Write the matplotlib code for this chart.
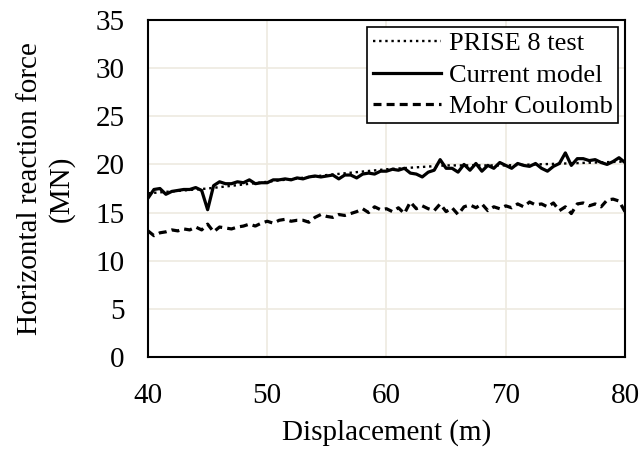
import numpy as np
import matplotlib
matplotlib.use("Agg")
import matplotlib.pyplot as plt

plt.rcParams['font.family'] = ['Liberation Serif', 'DejaVu Serif']

# Displacement (m) for the model curves, 0.5 m steps
displacement = np.arange(40.0, 80.01, 0.5)

current_model = [
    16.5, 17.4, 17.5, 16.9, 17.2, 17.3, 17.4, 17.4, 17.6, 17.3,
    15.3, 17.8, 18.2, 18.0, 18.0, 18.2, 18.1, 18.4, 18.0, 18.1,
    18.1, 18.4, 18.4, 18.5, 18.4, 18.6, 18.5, 18.7, 18.8, 18.7,
    18.8, 18.9, 18.5, 18.9, 18.9, 18.6, 19.0, 19.1, 19.0, 19.3,
    19.3, 19.5, 19.4, 19.6, 19.1, 19.0, 18.7, 19.2, 19.4, 20.5,
    19.6, 19.6, 19.2, 20.0, 19.4, 20.1, 19.3, 19.9, 19.6, 20.2,
    19.9, 19.6, 20.1, 19.9, 19.8, 20.1, 19.6, 19.3, 19.8, 20.1,
    21.2, 19.9, 20.6, 20.6, 20.4, 20.5, 20.2, 20.0, 20.3, 20.7,
    20.2,
]

mohr_coulomb = [
    13.1, 12.6, 12.9, 13.0, 13.2, 13.1, 13.3, 13.2, 13.5, 13.2,
    13.8, 13.0, 13.5, 13.4, 13.3, 13.5, 13.6, 13.8, 13.6, 13.9,
    14.1, 13.9, 14.2, 14.3, 14.1, 14.2, 14.2, 14.0, 14.5, 14.8,
    14.6, 14.5, 14.8, 14.7, 14.9, 15.1, 15.4, 15.0, 15.6, 15.3,
    15.4, 15.1, 15.5, 14.9, 16.1, 15.4, 15.7, 15.4, 15.2, 15.9,
    15.1, 15.5, 14.8, 15.6, 15.8, 15.5, 15.9, 15.2, 15.6, 15.4,
    15.7, 15.5, 15.9, 15.6, 16.1, 15.8, 15.9, 15.6, 16.0, 15.2,
    15.6, 14.9, 15.9, 16.0, 15.7, 15.9, 15.6, 16.3, 16.4, 16.2,
    15.1,
]

# Field test measurements
test_displacement = [40, 42, 45, 50, 55, 60, 65, 70, 75, 80]
test_force = [17.0, 17.2, 17.5, 18.2, 18.9, 19.5, 19.9, 19.9, 20.1, 20.3]

x_ticks = [40, 50, 60, 70, 80]
y_ticks = [0, 5, 10, 15, 20, 25, 30, 35]

fig = plt.figure(figsize=(6.41, 4.57), dpi=100)
ax = fig.add_axes([0.2309, 0.2188, 0.7441, 0.7374])

ax.plot(test_displacement, test_force, color='black', linestyle=(0, (1, 1.6)),
        linewidth=1.7, label='PRISE 8 test')
ax.plot(displacement, current_model, color='black', linestyle='-',
        linewidth=2.3, label='Current model')
ax.plot(displacement, mohr_coulomb, color='black', linestyle=(0, (2.5, 1.6)),
        linewidth=2.3, label='Mohr Coulomb')

ax.set_xlim(40, 80)
ax.set_ylim(0, 35)
ax.set_xticks(x_ticks)
ax.set_yticks(y_ticks)
ax.grid(True, color='#EEEAE0', linewidth=1.2)
ax.set_axisbelow(True)
ax.tick_params(length=0, labelsize=21)
ax.tick_params(axis='x', pad=19)
ax.tick_params(axis='y', pad=17)
for s in ax.spines.values():
    s.set_linewidth(1.5)
    s.set_color('black')

ax.set_xlabel('Displacement (m)', fontsize=21, labelpad=7)
ax.set_ylabel('Horizontal reaction force\n(MN)', fontsize=21, labelpad=15,
              linespacing=1.2)

leg = ax.legend(loc='upper right', fontsize=19, frameon=True, fancybox=False,
                handlelength=2.6, handletextpad=0.3, borderpad=0.2,
                labelspacing=0.3, borderaxespad=0.25)
leg.get_frame().set_edgecolor('black')
leg.get_frame().set_linewidth(1.2)
leg.get_frame().set_alpha(1)

fig.savefig('out.png', dpi=100)
